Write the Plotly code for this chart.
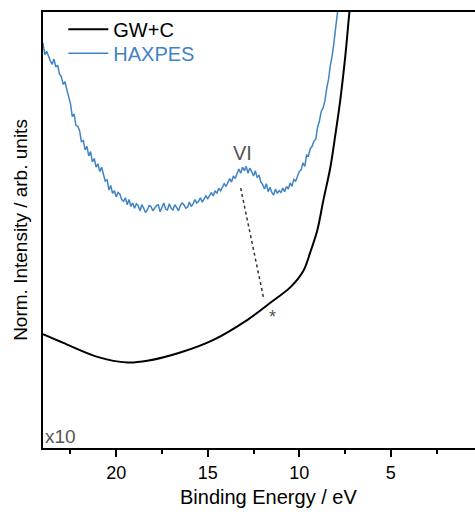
import plotly.graph_objects as go

# ---- data ----
gwc_energy = [24.0, 22.89, 21.03, 19.39, 18.3, 16.5, 14.69, 12.83, 11.58, 10.48,
              9.78, 9.39, 9.01, 8.68, 8.30, 8.03, 7.76, 7.48, 7.26, 7.10]
gwc_intensity = [2.61, 2.41, 2.09, 1.96, 2.00, 2.19, 2.48, 2.94, 3.33, 3.69,
                 4.06, 4.50, 5.00, 5.69, 6.44, 7.18, 7.98, 9.01, 10.0, 10.6]

haxpes_energy = [round(24.0 - 0.1 * i, 1) for i in range(163)]
haxpes_intensity = [
    9.29, 9.02, 9.10, 8.96, 8.88, 8.80, 8.92, 8.74, 8.78, 8.58,
    8.52, 8.34, 8.40, 8.22, 8.06, 7.90, 7.60, 7.66, 7.40, 7.38,
    7.28, 7.02, 7.06, 6.84, 6.92, 6.70, 6.80, 6.56, 6.64, 6.44,
    6.52, 6.34, 6.44, 6.30, 6.12, 6.16, 5.92, 6.02, 5.84, 5.90,
    5.76, 5.86, 5.82, 5.70, 5.66, 5.74, 5.58, 5.70, 5.54, 5.62,
    5.50, 5.60, 5.56, 5.44, 5.58, 5.50, 5.40, 5.46, 5.56, 5.54,
    5.44, 5.50, 5.56, 5.58, 5.42, 5.52, 5.62, 5.48, 5.46, 5.60,
    5.50, 5.46, 5.58, 5.52, 5.44, 5.56, 5.62, 5.58, 5.50, 5.52,
    5.64, 5.54, 5.60, 5.70, 5.62, 5.66, 5.74, 5.64, 5.72, 5.78,
    5.72, 5.80, 5.86, 5.78, 5.90, 5.84, 5.96, 5.90, 5.98, 6.06,
    6.00, 6.10, 6.18, 6.10, 6.24, 6.18, 6.32, 6.40, 6.30, 6.44,
    6.36, 6.46, 6.30, 6.42, 6.34, 6.24, 6.36, 6.20, 6.26, 6.10,
    6.04, 5.94, 6.06, 5.88, 5.98, 5.86, 5.80, 5.94, 5.84, 5.90,
    5.86, 5.96, 5.88, 6.00, 5.94, 6.08, 6.00, 6.16, 6.12, 6.24,
    6.34, 6.38, 6.54, 6.46, 6.72, 6.70, 6.86, 6.92, 7.04, 7.08,
    7.36, 7.50, 7.72, 7.80, 7.96, 8.25, 8.46, 8.78, 9.00, 9.32,
    9.70, 10.02, 10.40,
]

guide_energy = [13.2, 11.96]
guide_intensity = [5.96, 3.46]

x_major_ticks = [20, 15, 10, 5]
x_tick_labels = ["20", "15", "10", "5"]
x_minor_ticks = [22.5, 17.5, 12.5, 7.5, 2.5]

BLUE = "#3f84c5"
GRAY = "#555555"
FONT = "Arial, Liberation Sans, sans-serif"

fig = go.Figure()
fig.add_trace(go.Scatter(x=gwc_energy, y=gwc_intensity, mode="lines", name="GW+C",
                         legend="legend",
                         line=dict(color="black", width=2, shape="spline", smoothing=0.9)))
fig.add_trace(go.Scatter(x=haxpes_energy, y=haxpes_intensity, mode="lines",
                         name='<span style="color:%s">HAXPES</span>' % BLUE,
                         legend="legend2",
                         line=dict(color=BLUE, width=1.5)))
fig.add_trace(go.Scatter(x=guide_energy, y=guide_intensity, mode="lines", showlegend=False,
                         line=dict(color="#333333", width=1.5, dash="dot")))

fig.add_annotation(x=13.1, y=6.77, text="VI", showarrow=False,
                   font=dict(size=20, color=GRAY, family=FONT))
fig.add_annotation(x=11.46, y=3.0, text="*", showarrow=False,
                   font=dict(size=18, color=GRAY, family=FONT))
fig.add_annotation(x=0, y=0, xref="paper", yref="paper", text="x10", showarrow=False,
                   xanchor="left", yanchor="bottom", xshift=0, yshift=-1,
                   font=dict(size=19, color=GRAY, family=FONT))
fig.add_annotation(x=0.521, y=-0.112, xref="paper", yref="paper",
                   text="Binding Energy / eV", showarrow=False,
                   xanchor="center", yanchor="middle",
                   font=dict(size=20, color="black", family=FONT))

legend_style = dict(xanchor="left", yanchor="top", bgcolor="rgba(0,0,0,0)",
                    font=dict(size=20, family=FONT), itemwidth=40)

fig.update_layout(
    width=475, height=512,
    margin=dict(l=43, r=0, t=12, b=64),
    paper_bgcolor="white", plot_bgcolor="white",
    font=dict(family=FONT, size=18, color="black"),
    showlegend=True,
    legend=dict(x=0.047, y=1.005, **legend_style),
    legend2=dict(x=0.047, y=0.950, **legend_style),
    xaxis=dict(range=[24, 0.4], showline=True, linecolor="black", linewidth=2, mirror=True,
               ticks="outside", ticklen=7, tickwidth=2, tickcolor="black",
               tickvals=x_major_ticks, ticktext=x_tick_labels,
               minor=dict(tickvals=x_minor_ticks, ticklen=4, tickwidth=2,
                          tickcolor="black", ticks="outside"),
               showgrid=False, zeroline=False,
               tickfont=dict(size=18)),
    yaxis=dict(range=[0, 10], showline=True, linecolor="black", linewidth=2,
               showticklabels=False, ticks="", showgrid=False, zeroline=False,
               title=dict(text="Norm. Intensity / arb. units", font=dict(size=19), standoff=8)),
)

fig.write_html("out.html")
